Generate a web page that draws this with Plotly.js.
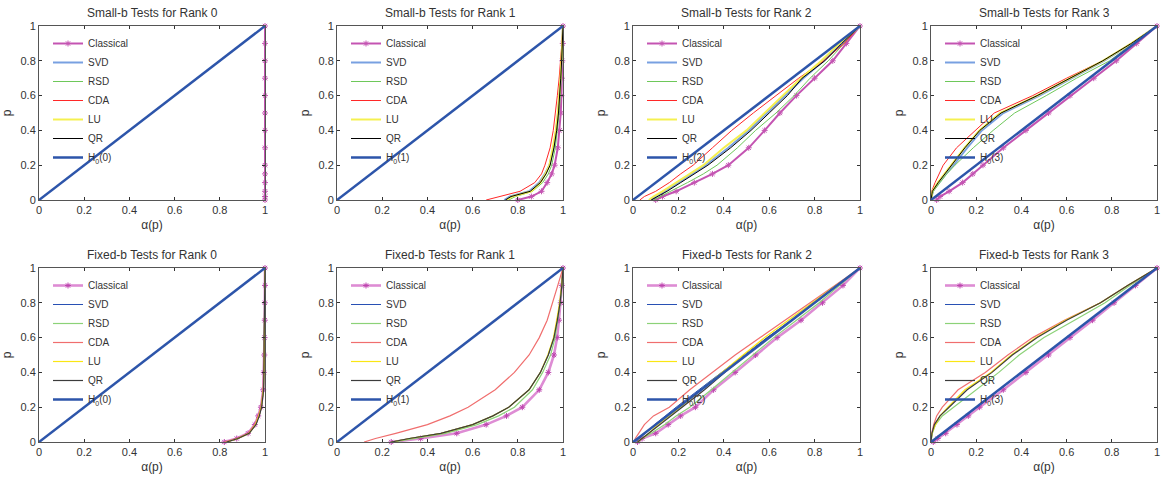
<!DOCTYPE html>
<html>
<head>
<meta charset="utf-8">
<script src="https://cdn.plot.ly/plotly-3.0.1.min.js"></script>
<style>html,body{margin:0;padding:0;background:#fff;}#chart{width:1161px;height:478px;}</style>
</head>
<body>
<div id="chart"></div>
<script>
// nominal p grid (y values); series hold alpha(p) (x values)
const P = [0, 0.02, 0.05, 0.1, 0.15, 0.2, 0.3, 0.4, 0.5, 0.6, 0.7, 0.8, 0.9, 1];
const H0 = [0, 0.02, 0.05, 0.1, 0.15, 0.2, 0.3, 0.4, 0.5, 0.6, 0.7, 0.8, 0.9, 1];
const seriesNames = ['Classical', 'SVD', 'RSD', 'CDA', 'LU', 'QR'];
const panelTitles = ['Small-b Tests for Rank 0', 'Small-b Tests for Rank 1', 'Small-b Tests for Rank 2', 'Small-b Tests for Rank 3',
                     'Fixed-b Tests for Rank 0', 'Fixed-b Tests for Rank 1', 'Fixed-b Tests for Rank 2', 'Fixed-b Tests for Rank 3'];
const panelRanks = [0, 1, 2, 3, 0, 1, 2, 3];
const tickVals = [0, 0.2, 0.4, 0.6, 0.8, 1];
const tickText = ['0', '0.2', '0.4', '0.6', '0.8', '1'];

// Small-b, rank 0
const sbR0Classical = [1,1,1,1,1,1,1,1,1,1,1,1,1,1];
const sbR0SVD = [1,1,1,1,1,1,1,1,1,1,1,1,1,1];
const sbR0RSD = [1,1,1,1,1,1,1,1,1,1,1,1,1,1];
const sbR0CDA = [1,1,1,1,1,1,1,1,1,1,1,1,1,1];
const sbR0LU = [1,1,1,1,1,1,1,1,1,1,1,1,1,1];
const sbR0QR = [1,1,1,1,1,1,1,1,1,1,1,1,1,1];
// Small-b, rank 1
const sbR1Classical = [0.80,0.86,0.905,0.93,0.95,0.963,0.977,0.985,0.99,0.993,0.995,0.997,0.999,1];
const sbR1SVD = [0.74,0.765,0.85,0.895,0.92,0.94,0.958,0.97,0.978,0.985,0.99,0.994,0.997,1];
const sbR1RSD = [0.76,0.79,0.865,0.91,0.935,0.95,0.966,0.976,0.983,0.988,0.992,0.995,0.998,1];
const sbR1CDA = [0.66,0.72,0.81,0.875,0.905,0.92,0.943,0.957,0.967,0.975,0.983,0.99,0.995,1];
const sbR1LU = [0.75,0.775,0.86,0.9,0.922,0.94,0.955,0.968,0.977,0.984,0.989,0.993,0.997,1];
const sbR1QR = [0.745,0.77,0.855,0.9,0.925,0.943,0.96,0.972,0.98,0.986,0.99,0.994,0.997,1];
// Small-b, rank 2
const sbR2Classical = [0.10,0.13,0.19,0.27,0.35,0.42,0.51,0.58,0.647,0.72,0.80,0.88,0.94,1];
const sbR2SVD = [0.08,0.10,0.14,0.20,0.26,0.32,0.42,0.51,0.59,0.67,0.75,0.84,0.92,1];
const sbR2RSD = [0.09,0.12,0.17,0.24,0.31,0.37,0.46,0.54,0.63,0.71,0.78,0.86,0.93,1];
const sbR2CDA = [0.03,0.05,0.10,0.16,0.21,0.265,0.35,0.435,0.53,0.63,0.73,0.84,0.93,1];
const sbR2LU = [0.07,0.09,0.13,0.19,0.25,0.31,0.40,0.50,0.58,0.66,0.74,0.83,0.91,1];
const sbR2QR = [0.08,0.11,0.15,0.21,0.27,0.33,0.43,0.52,0.60,0.68,0.745,0.845,0.92,1];
// Small-b, rank 3
const sbR3Classical = [0.025,0.04,0.08,0.14,0.185,0.23,0.32,0.42,0.52,0.615,0.72,0.82,0.91,1];
const sbR3SVD = [0,0.002,0.008,0.035,0.065,0.1,0.16,0.225,0.32,0.48,0.62,0.765,0.89,1];
const sbR3RSD = [0,0.003,0.01,0.04,0.07,0.106,0.187,0.275,0.37,0.51,0.644,0.79,0.894,1];
const sbR3CDA = [0,0,0.003,0.018,0.035,0.054,0.113,0.195,0.28,0.45,0.60,0.76,0.885,1];
const sbR3LU = [0,0.002,0.006,0.03,0.06,0.09,0.148,0.214,0.305,0.47,0.612,0.76,0.887,1];
const sbR3QR = [0,0.002,0.006,0.032,0.062,0.091,0.15,0.216,0.31,0.47,0.614,0.76,0.887,1];
// Fixed-b, rank 0
const fbR0Classical = [0.82,0.875,0.925,0.955,0.97,0.982,0.992,0.995,0.997,0.998,0.999,0.999,1,1];
const fbR0SVD = [0.83,0.88,0.93,0.958,0.972,0.984,0.993,0.996,0.997,0.997,0.998,0.999,1,1];
const fbR0RSD = [0.83,0.88,0.93,0.957,0.972,0.983,0.993,0.996,0.997,0.998,0.998,0.999,1,1];
const fbR0CDA = [0.82,0.875,0.925,0.955,0.97,0.982,0.992,0.995,0.997,0.998,0.999,0.999,1,1];
const fbR0LU = [0.83,0.88,0.93,0.958,0.973,0.984,0.993,0.996,0.997,0.997,0.998,0.999,1,1];
const fbR0QR = [0.83,0.88,0.93,0.96,0.975,0.985,0.994,0.996,0.996,0.996,0.997,0.997,0.999,1];
// Fixed-b, rank 1
const fbR1Classical = [0.24,0.37,0.53,0.66,0.75,0.82,0.895,0.935,0.96,0.974,0.982,0.99,0.995,1];
const fbR1SVD = [0.24,0.32,0.46,0.60,0.69,0.76,0.85,0.90,0.935,0.96,0.975,0.987,0.995,1];
const fbR1RSD = [0.25,0.34,0.48,0.62,0.715,0.785,0.865,0.91,0.945,0.965,0.978,0.988,0.995,1];
const fbR1CDA = [0.12,0.17,0.26,0.40,0.50,0.58,0.70,0.785,0.85,0.895,0.93,0.955,0.977,1];
const fbR1LU = [0.24,0.32,0.46,0.60,0.69,0.76,0.85,0.90,0.933,0.958,0.972,0.985,0.994,1];
const fbR1QR = [0.24,0.32,0.46,0.60,0.69,0.76,0.85,0.90,0.935,0.96,0.975,0.987,0.995,1];
// Fixed-b, rank 2
const fbR2Classical = [0.02,0.04,0.10,0.155,0.21,0.275,0.355,0.45,0.54,0.635,0.74,0.835,0.925,1];
const fbR2SVD = [0.01,0.03,0.055,0.095,0.14,0.19,0.29,0.39,0.49,0.59,0.70,0.80,0.90,1];
const fbR2RSD = [0.02,0.04,0.08,0.14,0.19,0.25,0.345,0.435,0.525,0.62,0.72,0.82,0.91,1];
const fbR2CDA = [0.005,0.01,0.025,0.05,0.09,0.16,0.25,0.35,0.45,0.56,0.67,0.785,0.89,1];
const fbR2LU = [0.02,0.04,0.07,0.11,0.16,0.21,0.30,0.39,0.485,0.58,0.685,0.79,0.895,1];
const fbR2QR = [0.02,0.04,0.07,0.12,0.17,0.22,0.315,0.405,0.50,0.595,0.70,0.80,0.90,1];
// Fixed-b, rank 3
const fbR3Classical = [0.01,0.03,0.065,0.115,0.165,0.215,0.32,0.42,0.52,0.615,0.715,0.81,0.905,1];
const fbR3SVD = [0.005,0.025,0.055,0.105,0.155,0.205,0.305,0.405,0.505,0.605,0.705,0.805,0.903,1];
const fbR3RSD = [0,0.002,0.006,0.02,0.05,0.1,0.2,0.3,0.39,0.5,0.635,0.77,0.88,1];
const fbR3CDA = [0,0,0.003,0.012,0.025,0.05,0.12,0.24,0.34,0.45,0.59,0.75,0.87,1];
const fbR3LU = [0,0.001,0.004,0.02,0.04,0.075,0.15,0.265,0.355,0.465,0.595,0.75,0.87,1];
const fbR3QR = [0,0.001,0.004,0.015,0.04,0.08,0.16,0.27,0.36,0.47,0.60,0.75,0.87,1];

const panelSeries = [
  [sbR0Classical, sbR0SVD, sbR0RSD, sbR0CDA, sbR0LU, sbR0QR],
  [sbR1Classical, sbR1SVD, sbR1RSD, sbR1CDA, sbR1LU, sbR1QR],
  [sbR2Classical, sbR2SVD, sbR2RSD, sbR2CDA, sbR2LU, sbR2QR],
  [sbR3Classical, sbR3SVD, sbR3RSD, sbR3CDA, sbR3LU, sbR3QR],
  [fbR0Classical, fbR0SVD, fbR0RSD, fbR0CDA, fbR0LU, fbR0QR],
  [fbR1Classical, fbR1SVD, fbR1RSD, fbR1CDA, fbR1LU, fbR1QR],
  [fbR2Classical, fbR2SVD, fbR2RSD, fbR2CDA, fbR2LU, fbR2QR],
  [fbR3Classical, fbR3SVD, fbR3RSD, fbR3CDA, fbR3LU, fbR3QR]
];

// styles
const W = 1161, H = 478;
const colPx = [[39, 265], [337, 563], [633, 860], [931, 1157]];
const rowPx = [[26, 200], [268, 442]];
const topStyle = [
  {color: 'rgb(196,84,178)', width: 2},
  {color: 'rgb(120,160,225)', width: 2},
  {color: 'rgb(110,200,90)', width: 1},
  {color: 'rgb(255,40,40)', width: 1},
  {color: 'rgb(245,240,80)', width: 2},
  {color: 'rgb(0,0,0)', width: 1}
];
const botStyle = [
  {color: 'rgb(222,140,212)', width: 2.6},
  {color: 'rgb(40,80,180)', width: 1},
  {color: 'rgb(140,210,120)', width: 1.2},
  {color: 'rgb(240,110,110)', width: 1.2},
  {color: 'rgb(250,230,20)', width: 1.2},
  {color: 'rgb(60,60,60)', width: 1.2}
];
const classicalMarker = ['rgb(196,84,178)', 'rgb(190,70,175)'];
const h0Color = 'rgb(45,85,170)';

const font = 'Liberation Sans, Arial, sans-serif';
const traces = [];
const layout = {
  width: W, height: H,
  margin: {l: 0, r: 0, t: 0, b: 0},
  paper_bgcolor: '#fff', plot_bgcolor: '#fff',
  font: {family: font, size: 11, color: '#333'},
  showlegend: true,
  annotations: []
};

for (let i = 0; i < 8; i++) {
  const row = Math.floor(i / 4), col = i % 4;
  const ax = i === 0 ? '' : String(i + 1);
  const xa = 'x' + ax, ya = 'y' + ax;
  const leg = i === 0 ? 'legend' : 'legend' + (i + 1);
  const styles = row === 0 ? topStyle : botStyle;
  const xd = [colPx[col][0] / W, colPx[col][1] / W];
  const yd = [(H - rowPx[row][1]) / H, (H - rowPx[row][0]) / H];

  const order = (i === 0) ? [1, 2, 3, 4, 5, 0] : [0, 1, 2, 3, 4, 5];
  order.forEach(s => {
    const tr = {
      type: 'scatter', mode: s === 0 ? 'lines+markers' : 'lines',
      x: panelSeries[i][s], y: P,
      name: seriesNames[s],
      xaxis: xa, yaxis: ya, legend: leg, legendrank: s + 1,
      line: {color: styles[s].color, width: styles[s].width},
      cliponaxis: false,
      hoverinfo: 'skip'
    };
    if (s === 0) {
      tr.marker = {symbol: 'asterisk-open', size: 5, color: classicalMarker[row],
                   line: {color: classicalMarker[row], width: 1}};
    }
    traces.push(tr);
  });
  traces.push({
    type: 'scatter', mode: 'lines', x: H0, y: H0,
    name: 'H<sub>0</sub>(' + panelRanks[i] + ')',
    xaxis: xa, yaxis: ya, legend: leg, legendrank: 7,
    line: {color: h0Color, width: 2.5}, hoverinfo: 'skip'
  });

  const axisCommon = {
    range: [0, 1], tickvals: tickVals, ticktext: tickText,
    ticks: 'inside', ticklen: 3, tickcolor: '#333', tickwidth: 1,
    showline: true, linecolor: '#555', linewidth: 1, mirror: 'ticks',
    showgrid: false, zeroline: false, fixedrange: true,
    tickfont: {family: font, size: 11, color: '#333'}
  };
  layout['xaxis' + ax] = Object.assign({}, axisCommon, {
    domain: xd, anchor: ya,
    title: {text: 'α(p)', font: {family: font, size: 12, color: '#333'}, standoff: 5}
  });
  layout['yaxis' + ax] = Object.assign({}, axisCommon, {
    domain: yd, anchor: xa,
    title: {text: 'p', font: {family: font, size: 12, color: '#333'}, standoff: 6}
  });
  layout[leg] = {
    x: xd[0] + 9 / W, xanchor: 'left',
    y: yd[1] - 3 / H, yanchor: 'top',
    bgcolor: 'rgba(0,0,0,0)', borderwidth: 0,
    font: {family: font, size: 10, color: '#333'},
    traceorder: 'normal', itemclick: false, itemdoubleclick: false
  };
  layout.annotations.push({
    text: panelTitles[i], xref: 'paper', yref: 'paper',
    x: (xd[0] + xd[1]) / 2, y: yd[1], xanchor: 'center', yanchor: 'bottom',
    yshift: 4, showarrow: false,
    font: {family: font, size: 12, color: '#333'}
  });
}

Plotly.newPlot('chart', traces, layout, {displayModeBar: false, staticPlot: true});
</script>
</body>
</html>
